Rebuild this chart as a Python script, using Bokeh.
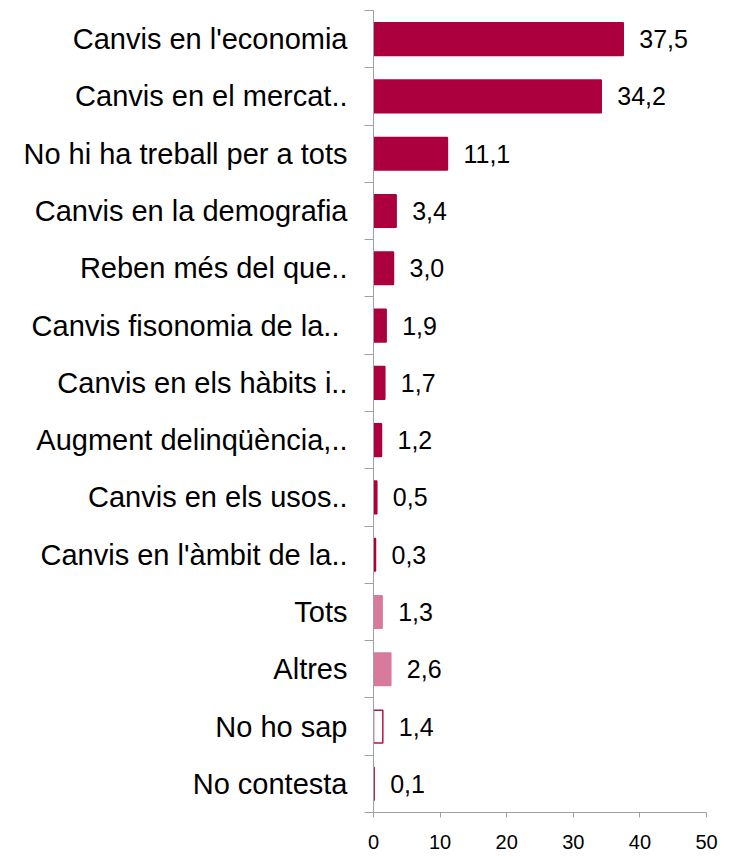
from bokeh.plotting import figure
from bokeh.models import ColumnDataSource, Range1d, LinearAxis, FixedTicker
from bokeh.core.properties import value
from bokeh.embed import file_html
from bokeh.resources import INLINE

categories = [
    "Canvis en l'economia",
    "Canvis en el mercat..",
    "No hi ha treball per a tots",
    "Canvis en la demografia",
    "Reben més del que..",
    "Canvis  fisonomia de la..",
    "Canvis en els hàbits i..",
    "Augment delinqüència,..",
    "Canvis en els usos..",
    "Canvis en l'àmbit de la..",
    "Tots",
    "Altres",
    "No ho sap",
    "No contesta",
]
values = [37.5, 34.2, 11.1, 3.4, 3.0, 1.9, 1.7, 1.2, 0.5, 0.3, 1.3, 2.6, 1.4, 0.1]
groups = ["main"] * 10 + ["other"] * 2 + ["nsnc"] * 2
x_ticks = [0, 10, 20, 30, 40, 50]

FONT = "Liberation Sans"
DARK = "#AC003E"
PINK = "#D87A9C"
OUTL = "#B8124A"
AXIS = "#A0A0A0"

fill_map = {"main": DARK, "other": PINK, "nsnc": "white"}
line_map = {"main": DARK, "other": PINK, "nsnc": OUTL}

n = len(categories)
ys = list(range(n))
src = ColumnDataSource(dict(
    y=ys,
    v=values,
    lab=[f"{v:.1f}".replace(".", ",") for v in values],
    fill=[fill_map[g] for g in groups],
    line=[line_map[g] for g in groups],
))

p = figure(width=735, height=857, output_backend="svg", toolbar_location=None,
           x_range=Range1d(0, 50), y_range=Range1d(n - 0.5, -0.5),
           x_axis_location=None, y_axis_location=None,
           min_border_left=373, min_border_right=29,
           min_border_top=10, min_border_bottom=45)
p.outline_line_color = None
p.xgrid.visible = False
p.ygrid.visible = False
p.background_fill_color = "white"
p.border_fill_color = "white"

p.hbar(y="y", left=0, right="v", height=0.57, source=src,
       fill_color="fill", line_color="line", line_width=1.5)

p.text(x="v", y="y", text="lab", source=src, x_offset=16,
       text_align="left", text_baseline="middle",
       text_font=value(FONT), text_font_size="25px", text_color="black")

# x axis
xa = LinearAxis(ticker=FixedTicker(ticks=x_ticks))
xa.axis_line_color = AXIS
xa.major_tick_line_color = AXIS
xa.major_tick_out = 5
xa.major_tick_in = 0
xa.minor_tick_line_color = None
xa.major_label_text_font = FONT
xa.major_label_text_font_size = "20px"
xa.major_label_text_color = "black"
xa.major_label_standoff = 17
p.add_layout(xa, "below")

# y axis: labels at category centres, tick marks at category boundaries
ya = LinearAxis(ticker=FixedTicker(ticks=ys, minor_ticks=[i - 0.5 for i in range(n + 1)]),
                major_label_overrides={i: c for i, c in zip(ys, categories)})
ya.axis_line_color = AXIS
ya.major_tick_line_color = None
ya.major_tick_out = 0
ya.major_tick_in = 0
ya.minor_tick_line_color = AXIS
ya.minor_tick_out = 9
ya.minor_tick_in = 0
ya.major_label_standoff = 17
ya.major_label_text_font = FONT
ya.major_label_text_font_size = "29px"
ya.major_label_text_color = "black"
p.add_layout(ya, "left")

open("out.html", "w").write(file_html(p, INLINE))
